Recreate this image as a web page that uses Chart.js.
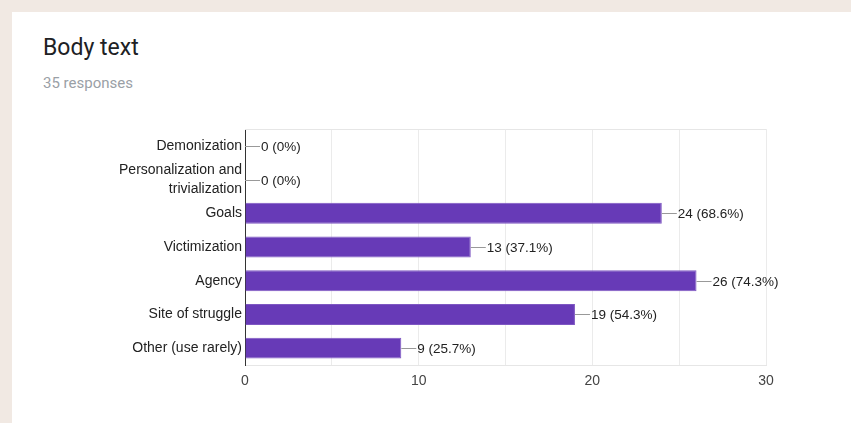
<!DOCTYPE html>
<html lang="en">
<head>
  <meta charset="UTF-8">
  <title>Body text</title>
  <script src="https://cdn.jsdelivr.net/npm/chart.js"></script>
  <style>
    body { margin: 0; background: #f1e9e3; width: 851px; height: 423px; overflow: hidden; position: relative; }
    .card { position: absolute; left: 12px; top: 12px; width: 839px; height: 411px; background: #fff; }
    .title { position: absolute; left: 43px; top: 34px; font-family: Roboto, sans-serif; font-size: 23px; color: #202124; }
    .sub { position: absolute; left: 43px; top: 74px; font-family: Roboto, sans-serif; font-size: 15px; color: #9aa0a6; }
    #chart { position: absolute; left: 0; top: 0; }
  </style>
</head>
<body>
  <div class="card"></div>
  <div class="title">Body text</div>
  <div class="sub">35 responses</div>
  <canvas id="chart" width="851" height="423"></canvas>

  <script>
    // datos
    const categories = ['Demonization', ['Personalization and', 'trivialization'], 'Goals', 'Victimization', 'Agency', 'Site of struggle', 'Other (use rarely)'];
    const counts = [0, 0, 24, 13, 26, 19, 9];
    const pctLabels = ['0%', '0%', '68.6%', '37.1%', '74.3%', '54.3%', '25.7%'];
    const xTicks = [0, 10, 20, 30];

    const fontFam = '"Liberation Sans", Arial, sans-serif';

    // etiquetas "—24 (68.6%)" al final de cada barra
    const valueLabels = {
      id: 'valueLabels',
      beforeDatasetsDraw(chart) {
        const a = chart.chartArea, c = chart.ctx;
        c.save();
        c.strokeStyle = '#e6e6e6';
        c.lineWidth = 1;
        c.beginPath();
        c.moveTo(a.left, a.top + 0.5);
        c.lineTo(a.right, a.top + 0.5);
        c.stroke();
        c.restore();
      },
      afterDatasetsDraw(chart) {
        const c = chart.ctx;
        const meta = chart.getDatasetMeta(0);
        c.save();
        c.font = '13.5px ' + fontFam;
        c.textBaseline = 'middle';
        meta.data.forEach((bar, i) => {
          const x = bar.x, y = Math.round(bar.y) + 0.5;
          c.strokeStyle = '#999';
          c.lineWidth = 1;
          c.beginPath();
          c.moveTo(x, y);
          c.lineTo(x + 15, y);
          c.stroke();
          c.fillStyle = '#222';
          c.fillText(counts[i] + ' (' + pctLabels[i] + ')', x + 16, y + 1);
        });
        c.restore();
      }
    };

    const ctx = document.getElementById('chart').getContext('2d');
    new Chart(ctx, {
      type: 'bar',
      data: {
        labels: categories,
        datasets: [{
          data: counts,
          backgroundColor: '#673ab7',
          borderColor: '#7e57c2',
          borderWidth: 1,
          borderSkipped: 'left',
          barPercentage: 0.62,
          categoryPercentage: 1
        }]
      },
      options: {
        indexAxis: 'y',
        responsive: false,
        animation: false,
        layout: { padding: { left: 0, right: 85, top: 129, bottom: 28 } },
        plugins: { legend: { display: false }, tooltip: { enabled: false } },
        scales: {
          x: {
            min: 0,
            max: 30,
            afterBuildTicks(axis) {
              axis.ticks = [0, 5, 10, 15, 20, 25, 30].map(v => ({ value: v }));
            },
            afterFit(axis) { axis.height = 30; },
            ticks: {
              padding: 8,
              maxRotation: 0,
              color: '#444',
              font: { family: fontFam, size: 14 },
              callback: v => xTicks.includes(v) ? v : ''
            },
            grid: { color: '#ebebeb', drawTicks: false },
            border: { color: '#e6e6e6' }
          },
          y: {
            afterFit(axis) { axis.width = 245; },
            ticks: {
              autoSkip: false,
              padding: 3,
              color: '#222',
              font: { family: fontFam, size: 14, lineHeight: 1.35 }
            },
            grid: { display: false, drawTicks: false },
            border: { color: '#333', width: 1 }
          }
        }
      },
      plugins: [valueLabels]
    });
  </script>
</body>
</html>
